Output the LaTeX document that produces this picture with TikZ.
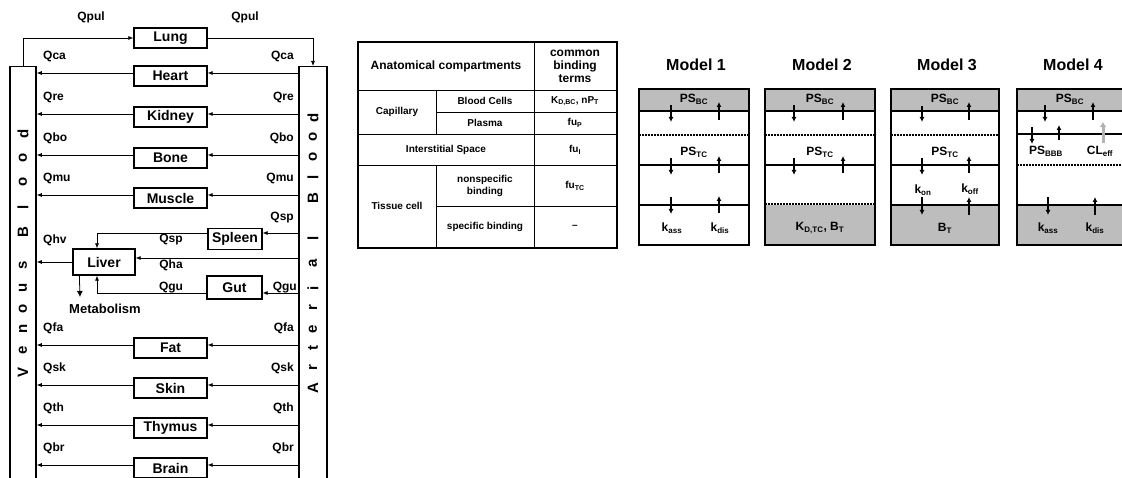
\documentclass[tikz,border=0pt]{standalone}
\usepackage{fontspec}
\setmainfont{Liberation Sans}
\usetikzlibrary{arrows.meta}

\definecolor{cellgray}{gray}{0.74}
\newcommand{\orgfont}{\fontsize{14}{16}\selectfont\bfseries}
\newcommand{\qfont}{\fontsize{12}{14}\selectfont\bfseries}
\newcommand{\barfont}{\fontsize{15}{17}\selectfont\bfseries}
\newcommand{\tabfont}{\fontsize{10}{12}\selectfont\bfseries}
\newcommand{\tabhead}{\fontsize{12}{13}\selectfont\bfseries}
\newcommand{\modfont}{\fontsize{16}{18}\selectfont\bfseries}
\newcommand{\cmpfont}{\fontsize{12}{14}\selectfont\bfseries}

\tikzset{
  organ/.style={rectangle, draw, line width=1.3pt, minimum width=73pt, minimum height=20pt, inner sep=0pt, font=\orgfont},
  flow/.style={-{Latex[length=5pt,width=4pt]}, line width=0.7pt},
  bar/.style={rectangle, draw, line width=1.5pt, inner sep=0pt},
  qlab/.style={font=\qfont, inner sep=0pt},
  cell/.style={font=\tabfont, align=center, inner sep=0pt},
  wall/.style={line width=2pt},
  leaky/.style={line width=2pt, dash pattern=on 1.6pt off 1.4pt},
  xfer/.style={-{Latex[length=5pt,width=5pt]}, line width=1.2pt},
  modbox/.style={line width=2.2pt},
}

\begin{document}
\begin{tikzpicture}[x=1pt, y=-1pt]
    \useasboundingbox (0,0) rectangle (1122,478);
    \clip (0,0) rectangle (1122,478);

    % blood pools
    \node[bar, minimum width=26pt, minimum height=420pt, anchor=north] (venous) at (23,66) {};
    \node[bar, minimum width=28pt, minimum height=420pt, anchor=north] (arterial) at (313,66) {};
    \foreach \ch/\y in {V/372, e/350, n/329, o/309, u/288, s/265, B/232, l/207, o/182, o/158, d/134}
        \node[rotate=90, font=\barfont, inner sep=0pt] at (23,\y) {\ch};
    \foreach \ch/\y in {A/388, r/368, t/348, e/329, r/308, i/288, a/263, l/238, B/198, l/177, o/157, o/137, d/118}
        \node[rotate=90, font=\barfont, inner sep=0pt] at (313,\y) {\ch};

    % lung
    \node[organ] (lung) at (170.5,38) {Lung};
    \draw[flow] (venous.north) |- (lung.west);
    \draw[flow] (lung.east) -| (arterial.north);
    \node[qlab] at (91,17) {Qpul};
    \node[qlab] at (245,17) {Qpul};

    % organs in parallel
    \foreach \oname/\otext/\oy/\oq in {heart/Heart/73/Qca, kidney/Kidney/114/Qre, bone/Bone/155/Qbo,
        muscle/Muscle/195/Qmu, fat/Fat/345/Qfa, skin/Skin/385/Qsk, thymus/Thymus/425/Qth, brain/Brain/465/Qbr}{
        \node[organ] (\oname) at (170.5,\oy+3) {\otext};
        \draw[flow] (arterial.west |- 0,\oy) -- (\oname.east |- 0,\oy);
        \draw[flow] (\oname.west |- 0,\oy) -- (venous.east |- 0,\oy);
        \node[qlab, anchor=west] at (43,\oy-16.5) {\oq};
        \node[qlab, anchor=east] at (294,\oy-16.5) {\oq};
    }

    % splanchnic part
    \node[organ, minimum width=62pt, minimum height=26pt] (liver) at (104,262) {Liver};
    \node[organ, minimum width=54pt, minimum height=21pt] (spleen) at (235,239) {Spleen};
    \node[organ, minimum width=55pt, minimum height=23pt] (gut) at (234.5,287.5) {Gut};
    \draw[flow] (arterial.west |- 0,233) -- (spleen.east |- 0,233);
    \draw[flow] (spleen.west |- 0,233) -| ([xshift=-7pt]liver.north);
    \draw[flow] (arterial.west |- 0,258) -- (liver.east |- 0,258);
    \draw[flow] (liver.west) -- (venous.east |- liver.west);
    \draw[flow] (arterial.west |- 0,293) -- (gut.east |- 0,293);
    \draw[flow] (gut.west |- 0,293) -| ([xshift=-7pt]liver.south);
    \coordinate (metab) at (80,297);
    \draw[-{Latex[length=6pt,width=6pt]}, line width=0.8pt] ([xshift=7pt]liver.south west) -- (metab);
    \node[font=\fontsize{13}{15}\selectfont\bfseries] (metabtxt) at (105,309) {Metabolism};
    \node[qlab, anchor=east] at (294,218) {Qsp};
    \node[qlab] at (171,240) {Qsp};
    \node[qlab, anchor=west] at (43,240) {Qhv};
    \node[qlab] at (171,265) {Qha};
    \node[qlab] at (171,288) {Qgu};
    \node[qlab, anchor=east] at (297,288) {Qgu};

    % table of binding terms
    \draw[line width=1.2pt] (358,42) rectangle (617,248);
    \draw[line width=0.9pt] (358,90) -- (617,90);
    \draw[line width=0.9pt] (436,112) -- (617,112);
    \draw[line width=0.9pt] (358,134) -- (617,134);
    \draw[line width=0.9pt] (358,165) -- (617,165);
    \draw[line width=0.9pt] (436,206) -- (617,206);
    \draw[line width=0.9pt] (534,42) -- (534,248);
    \draw[line width=0.9pt] (436,90) -- (436,134);
    \draw[line width=0.9pt] (436,165) -- (436,248);
    \node[cell, font=\tabhead] at (446,66) {Anatomical compartments};
    \node[cell, font=\tabhead] at (575,66) {common\\binding\\terms};
    \node[cell] at (397,112) {Capillary};
    \node[cell] at (485,101) {Blood Cells};
    \node[cell] at (485,123) {Plasma};
    \node[cell] at (446,150) {Interstitial Space};
    \node[cell] at (397,206) {Tissue cell};
    \node[cell] at (485,186) {nonspecific\\binding};
    \node[cell] at (485,227) {specific binding};
    \node[cell] at (575,101) {K\textsubscript{D,BC}, nP\textsubscript{T}};
    \node[cell] at (575,123) {fu\textsubscript{P}};
    \node[cell] at (575,150) {fu\textsubscript{I}};
    \node[cell] at (575,186) {fu\textsubscript{TC}};
    \node[cell] at (575,227) {--};

    % Model 1
    \begin{scope}[shift={(639,0)}]
        \node[font=\modfont] at (57,65) {Model 1};
        \fill[cellgray] (0,89) rectangle (110,111);
        \draw[wall] (0,111) -- (110,111);
        \draw[leaky] (0,135) -- (110,135);
        \draw[wall] (0,165) -- (110,165);
        \draw[wall] (0,205) -- (110,205);
        \draw[xfer] (32,105) -- (32,122);
        \draw[xfer] (80,120) -- (80,102);
        \draw[xfer] (32,158) -- (32,175);
        \draw[xfer] (80,173) -- (80,156);
        \draw[xfer] (32,197) -- (32,214);
        \draw[xfer] (80,213) -- (80,196);
        \node[font=\cmpfont] at (55,99) {PS\textsubscript{BC}};
        \node[font=\cmpfont] at (55,152) {PS\textsubscript{TC}};
        \node[font=\cmpfont] at (33,228) {k\textsubscript{ass}};
        \node[font=\cmpfont] at (81,228) {k\textsubscript{dis}};
        \draw[modbox] (0,89) rectangle (110,245);
    \end{scope}

    % Model 2
    \begin{scope}[shift={(765,0)}]
        \node[font=\modfont] at (57,65) {Model 2};
        \fill[cellgray] (0,89) rectangle (110,111);
        \fill[cellgray] (0,205) rectangle (110,245);
        \draw[wall] (0,111) -- (110,111);
        \draw[leaky] (0,135) -- (110,135);
        \draw[wall] (0,165) -- (110,165);
        \draw[leaky] (0,204) -- (110,204);
        \draw[xfer] (29,105) -- (29,122);
        \draw[xfer] (78,120) -- (78,102);
        \draw[xfer] (29,158) -- (29,175);
        \draw[xfer] (78,173) -- (78,156);
        \node[font=\cmpfont] at (55,99) {PS\textsubscript{BC}};
        \node[font=\cmpfont] at (55,152) {PS\textsubscript{TC}};
        \node[font=\cmpfont] at (55,228) {K\textsubscript{D,TC}, B\textsubscript{T}};
        \draw[modbox] (0,89) rectangle (110,245);
    \end{scope}

    % Model 3
    \begin{scope}[shift={(891,0)}]
        \node[font=\modfont] at (56,65) {Model 3};
        \fill[cellgray] (0,89) rectangle (108,111);
        \fill[cellgray] (0,205) rectangle (108,245);
        \draw[wall] (0,111) -- (108,111);
        \draw[leaky] (0,135) -- (108,135);
        \draw[wall] (0,165) -- (108,165);
        \draw[wall] (0,205) -- (108,205);
        \draw[xfer] (31,106) -- (31,122);
        \draw[xfer] (78,120) -- (78,102);
        \draw[xfer] (31,158) -- (31,175);
        \draw[xfer] (78,173) -- (78,156);
        \draw[xfer] (31,197) -- (31,215);
        \draw[xfer] (78,215) -- (78,197);
        \node[font=\cmpfont] at (54,99) {PS\textsubscript{BC}};
        \node[font=\cmpfont] at (54,152) {PS\textsubscript{TC}};
        \node[font=\cmpfont] at (32,190) {k\textsubscript{on}};
        \node[font=\cmpfont] at (79,189) {k\textsubscript{off}};
        \node[font=\cmpfont] at (54,228) {B\textsubscript{T}};
        \draw[modbox] (0,89) rectangle (108,245);
    \end{scope}

    % Model 4
    \begin{scope}[shift={(1017,0)}]
        \node[font=\modfont] at (56,65) {Model 4};
        \fill[cellgray] (0,89) rectangle (112,111);
        \fill[cellgray] (0,205) rectangle (112,245);
        \draw[wall] (0,111) -- (112,111);
        \draw[wall] (0,134) -- (112,134);
        \draw[leaky] (0,165) -- (112,165);
        \draw[wall] (0,205) -- (112,205);
        \draw[xfer] (28,105) -- (28,122);
        \draw[xfer] (76,120) -- (76,102);
        \draw[xfer] (15,127) -- (15,144);
        \draw[xfer] (42,140) -- (42,125);
        \draw[-{Latex[length=5pt,width=7pt]}, line width=3pt, black!30] (86,143) -- (86,122);
        \draw[xfer] (31,197) -- (31,215);
        \draw[xfer] (78,215) -- (78,197);
        \node[font=\cmpfont] at (53,99) {PS\textsubscript{BC}};
        \node[font=\cmpfont] at (29,151) {PS\textsubscript{BBB}};
        \node[font=\cmpfont] at (83,151) {CL\textsubscript{eff}};
        \node[font=\cmpfont] at (31,228) {k\textsubscript{ass}};
        \node[font=\cmpfont] at (78,228) {k\textsubscript{dis}};
        \draw[modbox] (0,89) rectangle (112,245);
    \end{scope}
\end{tikzpicture}
\end{document}
